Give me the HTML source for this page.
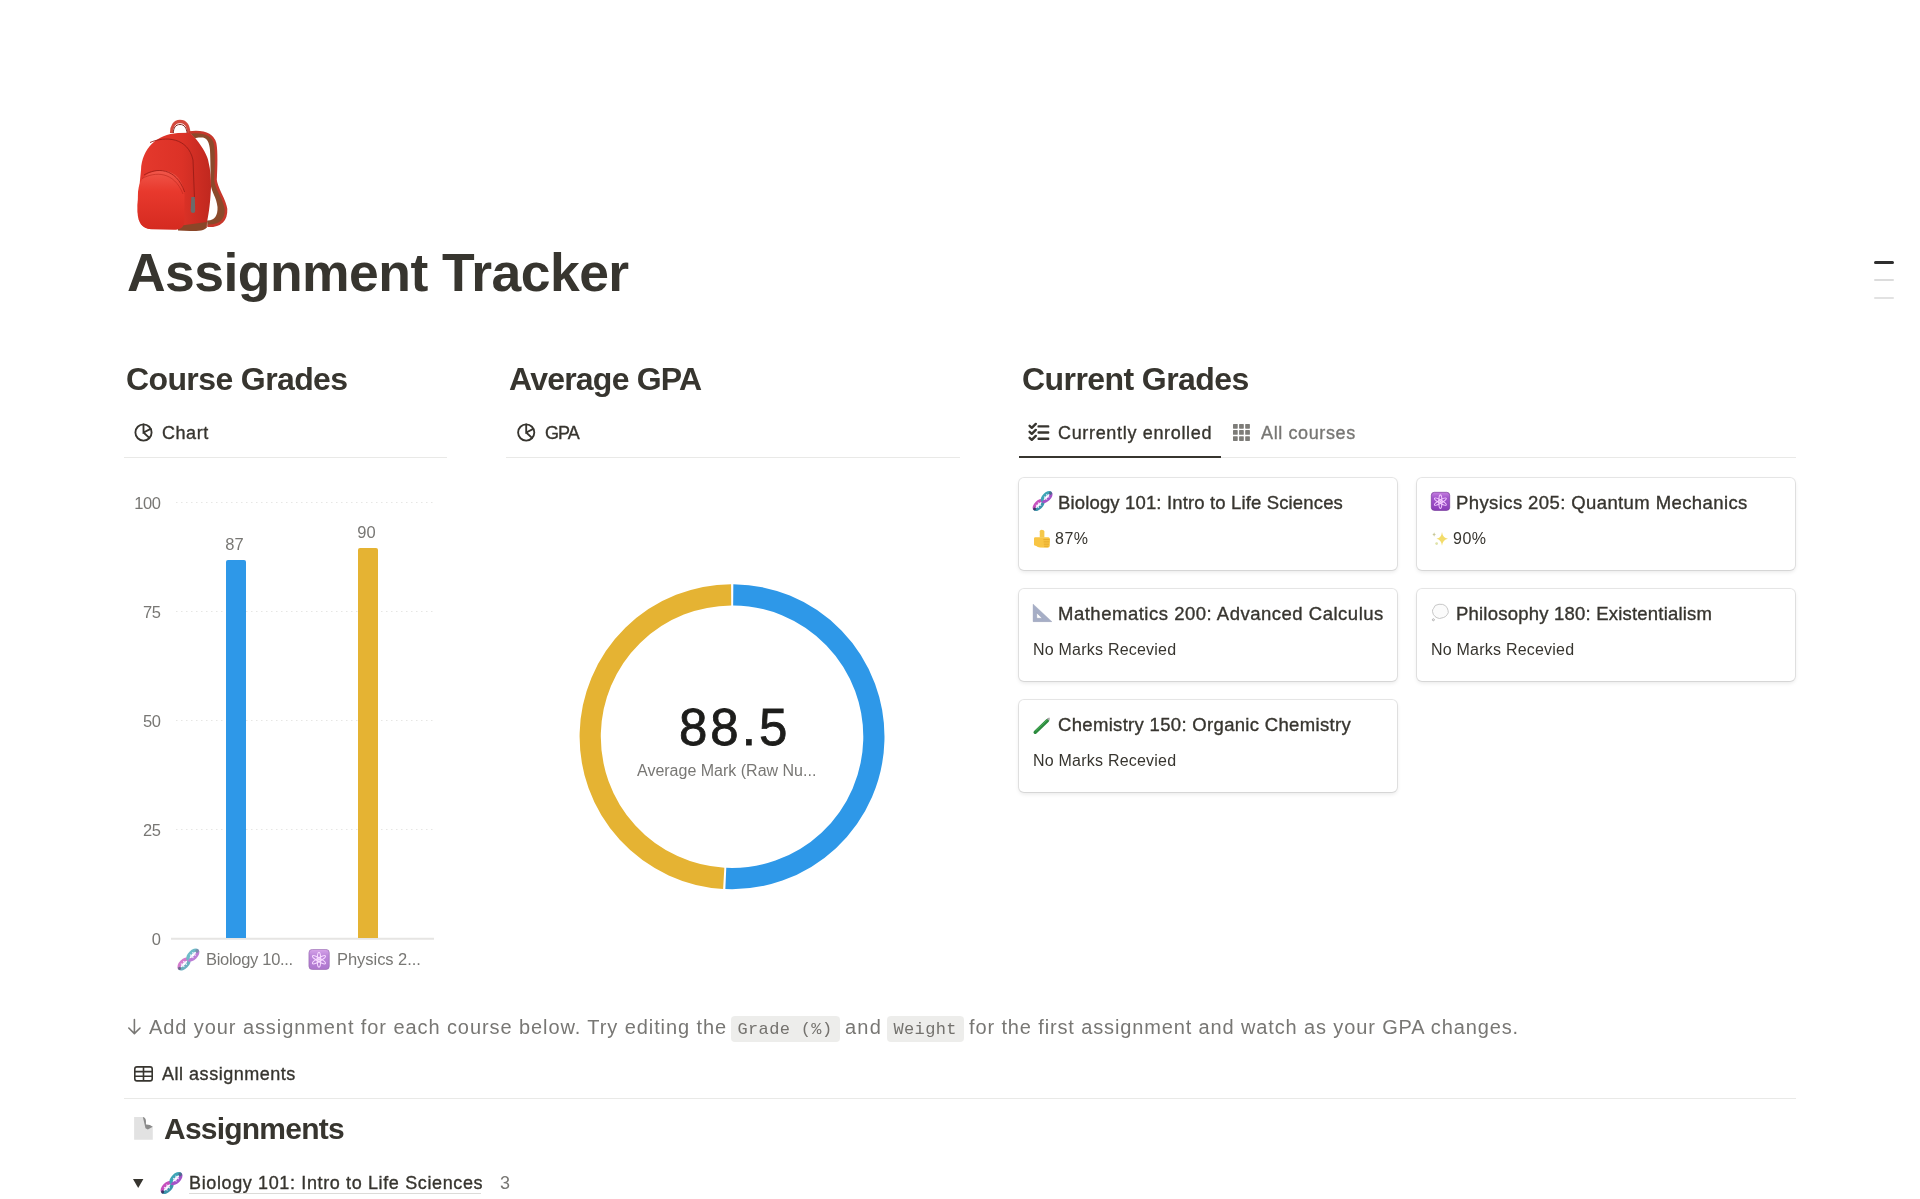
<!DOCTYPE html>
<html><head><meta charset="utf-8">
<style>
html,body{margin:0;padding:0;background:#fff;width:1920px;height:1199px;overflow:hidden;}
body{position:relative;font-family:"Liberation Sans",sans-serif;color:#37352f;}
.t{position:absolute;white-space:nowrap;line-height:1;}
.b{font-weight:bold;}
.g{color:#787774;}
.hr{position:absolute;height:1px;background:#e9e9e7;}
.card{position:absolute;width:378px;height:92px;border-radius:5px;background:#fff;box-shadow:rgba(15,15,15,0.1) 0 0 0 1px,rgba(15,15,15,0.1) 0 2px 4px;}
.ct{font-size:18.5px;-webkit-text-stroke:0.35px #37352f;}
.m{-webkit-text-stroke:0.35px currentColor;}
.cp{font-size:16px;}
svg{position:absolute;overflow:visible;}
code{font-family:"Liberation Mono",monospace;font-size:17px;background:rgba(135,131,120,0.15);color:#6b6b6b;border-radius:4px;padding:3px 6px;}
</style></head><body><div id="wrap" style="position:absolute;left:0;top:0;width:1920px;height:1199px;will-change:transform;">

<!-- ICONS / EMOJI PLACEHOLDER -->
<!-- backpack -->
<svg style="left:125px;top:110px" width="120" height="130" viewBox="125 110 120 130">
 <defs>
  <linearGradient id="bpg" x1="0" y1="0" x2="1" y2="0"><stop offset="0" stop-color="#e5392d"/><stop offset="0.6" stop-color="#dc3227"/><stop offset="1" stop-color="#c0281f"/></linearGradient>
  <linearGradient id="bpp" x1="0" y1="0" x2="0" y2="1"><stop offset="0" stop-color="#f0574a"/><stop offset="0.35" stop-color="#e8392d"/><stop offset="1" stop-color="#d52a20"/></linearGradient>
 </defs>
 <!-- handle -->
 <path d="M171.5 133 C171.5 126 174.5 121.5 180 121.3 C185.5 121.3 188.5 126 189 133.5" fill="none" stroke="#d24a3e" stroke-width="3.2"/>
 <path d="M173.3 133 C173.5 128 175.5 124.5 180 124.5 C184.5 124.5 186.5 128 187.2 133.5" fill="none" stroke="#7e2620" stroke-width="1"/>
 <!-- strap -->
 <path d="M189 132.3 C200 131 212 132.5 215.5 143 C217.5 152 216.5 168 216 180 C217 190 224.5 197 226.5 209 C227 220 221 227 207.5 226.5 L207 220.5 C214 221 218 216 217.5 207 C216.5 197 211.5 192 210.8 185 C210.5 175 210.5 160 210 150 C209.5 143 207 138 203 137.5 C199 137.2 196.5 137.5 195 138.5 Z" fill="#8b4a2b"/>
 <path d="M189 132.5 C200 131.2 212 132.8 215 143 C217 152 216 168 215.5 180 C216.5 190 224 197 226 209 C226.5 219.5 221 226.2 207.5 225.8" fill="none" stroke="#c8372b" stroke-width="2.6"/>
 <!-- body -->
 <path d="M141 170 C142 148 157 134.5 178 133 L189.5 132.8 C193 135.5 196 139 198.7 142.5 C202 147 204 150 205.5 153.5 C207 156.5 208 159 208.5 162 C210.5 170 211 178 211 187 C210.5 200 209 213 207 222 L206.5 228 L150 229 C141 228 137.5 221 137.5 205 Z" fill="url(#bpg)"/>
 <path d="M178 226 L206.8 222 L206.5 227.5 C205 230.5 199 231 190 231 L178 230.5 Z" fill="#8a4628"/>
 <path d="M150 142.5 C165 136 188 137 193 160 L194.5 199" fill="none" stroke="#9a1d17" stroke-width="0.9"/>
 <path d="M191.3 197 L194.8 197 L195.2 211 C195.2 213.5 191 213.5 190.7 211 Z" fill="#6b6b6b"/>
 <!-- pocket -->
 <path d="M138 192 C139 178 148 170.5 162 170.5 C175 171 183.5 180 184.5 195 L184.3 222 C183.8 227.5 180 229.8 174 229.8 L151 229.2 C142 228.5 138 223 137.5 212 Z" fill="url(#bpp)"/>
 <path d="M144 175 C156 167.5 176 167 184.6 192" fill="none" stroke="#a11f18" stroke-width="0.9"/>
 <path d="M142 178.5 C155 171.5 174 171 183 194" fill="none" stroke="#b8261d" stroke-width="0.6"/>
</svg>


<!-- title -->
<div class="t b" id="title" style="letter-spacing:-0.545px;left:127px;top:246px;font-size:53.5px;">Assignment Tracker</div>

<!-- scroll TOC -->
<div style="position:absolute;left:1874px;top:261px;width:20px;height:3px;border-radius:2px;background:#2f2f2f"></div>
<div style="position:absolute;left:1874px;top:279px;width:20px;height:2px;border-radius:1px;background:#dcdcdc"></div>
<div style="position:absolute;left:1874px;top:297px;width:20px;height:2px;border-radius:1px;background:#e2e2e2"></div>

<!-- headings -->
<div class="t b" id="h1" style="letter-spacing:-0.613px;left:126px;top:363px;font-size:32px;">Course Grades</div>
<div class="t b" id="h2" style="letter-spacing:-0.780px;left:509px;top:363px;font-size:32px;">Average GPA</div>
<div class="t b" id="h3" style="letter-spacing:-0.573px;left:1022px;top:363px;font-size:32px;">Current Grades</div>

<!-- tabs -->
<div class="t m" id="tab1" style="letter-spacing:0.55px;left:162px;top:424px;font-size:18px;">Chart</div>
<div class="t m" id="tab2" style="letter-spacing:-1.00px;left:545px;top:424px;font-size:18px;">GPA</div>
<div class="t m" id="tab3" style="letter-spacing:0.67px;left:1058px;top:424px;font-size:18px;">Currently enrolled</div>
<div class="t m g" id="tab4" style="letter-spacing:0.62px;left:1261px;top:424px;font-size:18px;">All courses</div>
<div class="hr" style="left:124px;top:457px;width:323px;"></div>
<div class="hr" style="left:506px;top:457px;width:454px;"></div>
<div class="hr" style="left:1019px;top:457px;width:777px;"></div>
<div style="position:absolute;left:1019px;top:456px;width:202px;height:2px;background:#37352f"></div>

<!-- tab icons -->
<svg style="left:0;top:0" width="1920" height="1199">
 <g fill="none" stroke="#37352f" stroke-width="1.85" stroke-linecap="round">
  <circle cx="143.5" cy="432.5" r="8.1"/>
  <path d="M143.5 424.4V432.5L150.6 428.9M143.5 432.5L149.3 437.9"/>
  <circle cx="526.2" cy="432.5" r="8.1"/>
  <path d="M526.2 424.4V432.5L533.3 428.9M526.2 432.5L532 437.9"/>
 </g>
 <g fill="none" stroke="#37352f" stroke-width="2.4" stroke-linecap="round" stroke-linejoin="round">
  <path d="M1029.6 425.8L1031.8 427.8L1035.8 423.9M1029.6 431.8L1031.8 433.8L1035.8 429.9M1029.6 437.8L1031.8 439.8L1035.8 435.9"/>
  <path d="M1038.6 426.4H1048.2M1038.6 432.5H1048.2M1038.6 438.7H1048.2"/>
 </g>
 <g fill="#7d7c78">
  <rect x="1233" y="424" width="4.7" height="4.7" rx="0.6"/><rect x="1239.1" y="424" width="4.7" height="4.7" rx="0.6"/><rect x="1245.2" y="424" width="4.7" height="4.7" rx="0.6"/>
  <rect x="1233" y="430.1" width="4.7" height="4.7" rx="0.6"/><rect x="1239.1" y="430.1" width="4.7" height="4.7" rx="0.6"/><rect x="1245.2" y="430.1" width="4.7" height="4.7" rx="0.6"/>
  <rect x="1233" y="436.2" width="4.7" height="4.7" rx="0.6"/><rect x="1239.1" y="436.2" width="4.7" height="4.7" rx="0.6"/><rect x="1245.2" y="436.2" width="4.7" height="4.7" rx="0.6"/>
 </g>
 <g fill="none" stroke="#37352f" stroke-width="1.6">
  <rect x="134.8" y="1066.9" width="17.4" height="14" rx="2.2"/>
  <path d="M134.8 1071.6H152.2M134.8 1076.3H152.2M143.5 1066.9V1080.9"/>
 </g>
 <path d="M133 1179H143.4L138.2 1188Z" fill="#37352f"/>
 <g fill="none" stroke="#787774" stroke-width="1.6" stroke-linecap="round" stroke-linejoin="round">
  <path d="M134.4 1019.5V1033.5M128.8 1028L134.4 1033.6L140 1028"/>
 </g>
</svg>

<!-- bar chart -->
<svg style="left:0;top:0" width="1920" height="1199">
 <g stroke="#e6e6e4" stroke-width="1" stroke-dasharray="1.5 3.5">
  <path d="M176 502.5H436M176 611.5H436M176 720.5H436M176 829.5H436"/>
 </g>
 <path d="M171 938.8H434" stroke="#e6e5e3" stroke-width="2"/>
 <path d="M226 938V562a2 2 0 0 1 2-2h16a2 2 0 0 1 2 2V938Z" fill="#2e98e8"/>
 <path d="M358 938V550a2 2 0 0 1 2-2h16a2 2 0 0 1 2 2V938Z" fill="#e5b333"/>
</svg>
<div class="t g" style="left:100px;top:495px;width:60.5px;text-align:right;font-size:16.5px;letter-spacing:-0.4px;">100</div>
<div class="t g" style="left:100px;top:604px;width:60.5px;text-align:right;font-size:16.5px;letter-spacing:-0.4px;">75</div>
<div class="t g" style="left:100px;top:713px;width:60.5px;text-align:right;font-size:16.5px;letter-spacing:-0.4px;">50</div>
<div class="t g" style="left:100px;top:822px;width:60.5px;text-align:right;font-size:16.5px;letter-spacing:-0.4px;">25</div>
<div class="t g" style="left:100px;top:931px;width:60.5px;text-align:right;font-size:16.5px;letter-spacing:-0.4px;">0</div>
<div class="t g" style="left:204.5px;top:535.5px;width:60px;text-align:center;font-size:16.5px;">87</div>
<div class="t g" style="left:336.5px;top:523.5px;width:60px;text-align:center;font-size:16.5px;">90</div>
<div class="t g" id="bl1" style="letter-spacing:-0.30px;left:206px;top:951px;font-size:16.5px;">Biology 10...</div>
<div class="t g" id="bl2" style="letter-spacing:-0.04px;left:337px;top:951px;font-size:16.5px;">Physics 2...</div>

<!-- donut -->
<svg style="left:0;top:0" width="1920" height="1199">
 <g fill="none" stroke-width="21.2">
  <path id="arcB" stroke="#2e98e8" d="M733.24 594.80A141.9 141.9 0 1 1 725.81 878.46"/>
  <path id="arcY" stroke="#e5b333" d="M723.73 878.35A141.9 141.9 0 0 1 731.16 594.80"/>
 </g>
</svg>
<div class="t" id="num" style="left:679px;top:702px;font-size:51px;letter-spacing:3px;color:#1d1d1b;-webkit-text-stroke:0.8px #1d1d1b;">88.5</div>
<div class="t g" id="avg" style="letter-spacing:0px;left:637px;top:763px;font-size:16px;">Average Mark (Raw Nu...</div>

<!-- cards -->
<div class="card" style="left:1019px;top:478px;"></div>
<div class="card" style="left:1417px;top:478px;"></div>
<div class="card" style="left:1019px;top:589px;"></div>
<div class="card" style="left:1417px;top:589px;"></div>
<div class="card" style="left:1019px;top:700px;"></div>

<div class="t ct" id="c1" style="letter-spacing:0.15px;left:1058px;top:494px;">Biology 101: Intro to Life Sciences</div>
<div class="t cp" id="c1p" style="letter-spacing:0.5px;left:1055px;top:531px;">87%</div>
<div class="t ct" id="c2" style="letter-spacing:0.40px;left:1456px;top:494px;">Physics 205: Quantum Mechanics</div>
<div class="t cp" id="c2p" style="letter-spacing:0.5px;left:1453px;top:531px;">90%</div>
<div class="t ct" id="c3" style="letter-spacing:0.51px;left:1058px;top:605px;">Mathematics 200: Advanced Calculus</div>
<div class="t cp" id="c3p" style="letter-spacing:0.22px;left:1033px;top:642px;">No Marks Recevied</div>
<div class="t ct" id="c4" style="letter-spacing:0.21px;left:1456px;top:605px;">Philosophy 180: Existentialism</div>
<div class="t cp" id="c4p" style="letter-spacing:0.22px;left:1431px;top:642px;">No Marks Recevied</div>
<div class="t ct" id="c5" style="letter-spacing:0.32px;left:1058px;top:716px;">Chemistry 150: Organic Chemistry</div>
<div class="t cp" id="c5p" style="letter-spacing:0.22px;left:1033px;top:753px;">No Marks Recevied</div>

<!-- instruction -->
<div class="t g" id="seg1" style="left:149px;top:1017px;font-size:20px;letter-spacing:0.92px;">Add your assignment for each course below. Try editing the</div>
<div style="position:absolute;left:731px;top:1016px;width:109px;height:26px;border-radius:4px;background:rgba(135,131,120,0.15)"></div>
<div class="t" id="code1" style="left:737.5px;top:1021px;font-family:'Liberation Mono',monospace;font-size:17px;letter-spacing:0.35px;color:#74726e;">Grade (%)</div>
<div class="t g" id="seg2" style="left:845px;top:1017px;font-size:20px;letter-spacing:1.2px;">and</div>
<div style="position:absolute;left:887px;top:1016px;width:77px;height:26px;border-radius:4px;background:rgba(135,131,120,0.15)"></div>
<div class="t" id="code2" style="left:893.5px;top:1021px;font-family:'Liberation Mono',monospace;font-size:17px;letter-spacing:0.35px;color:#74726e;">Weight</div>
<div class="t g" id="seg3" style="left:969px;top:1017px;font-size:20px;letter-spacing:0.87px;">for the first assignment and watch as your GPA changes.</div>

<div class="t m" id="tab5" style="letter-spacing:0.52px;left:162px;top:1065px;font-size:18px;">All assignments</div>
<div class="hr" style="left:124px;top:1098px;width:1672px;"></div>

<div class="t b" id="asg" style="letter-spacing:-0.78px;left:164px;top:1114px;font-size:30px;">Assignments</div>
<div class="t" id="grp" style="letter-spacing:0.63px;left:189px;top:1174px;font-size:18px;-webkit-text-stroke:0.35px #37352f;">Biology 101: Intro to Life Sciences</div>
<div style="position:absolute;left:189px;top:1193px;width:292px;height:1px;background:#dcdbd8"></div>
<div class="t g" id="grpn" style="left:500px;top:1174px;font-size:18px;">3</div>

<svg style="left:0;top:0" width="1920" height="1199">
 
 <svg x="1033" y="491.5" width="19" height="19" viewBox="200 150 760 760" style="position:static">
   <g transform="translate(425 690) rotate(-45)">
    <path d="M-225 0A225 110 0 0 1 225 0" fill="none" stroke="#c650bd" stroke-width="125"/>
    <path d="M-225 0A225 110 0 0 0 225 0" fill="none" stroke="#3b95ab" stroke-width="125"/>
    <path d="M-70 -70V70M50 -75V75" stroke="#efe2ff" stroke-width="40" stroke-linecap="round"/>
    <circle cx="-230" cy="0" r="55" fill="#3d3566"/>
   </g>
   <g transform="translate(745 370) rotate(-45)">
    <path d="M-225 0A225 110 0 0 0 225 0" fill="none" stroke="#a452c8" stroke-width="125"/>
    <path d="M-225 0A225 110 0 0 1 225 0" fill="none" stroke="#3ea5b6" stroke-width="125"/>
    <path d="M-60 -70V70M60 -70V70" stroke="#e6e0ff" stroke-width="40" stroke-linecap="round"/>
    <circle cx="215" cy="0" r="65" fill="#4d6a90"/>
   </g>
  </svg>
 <svg x="1431" y="492" width="19" height="18.75" viewBox="200 160 760 750" style="position:static">
   <defs><linearGradient id="atg2" x1="0" y1="0" x2="0" y2="1"><stop offset="0" stop-color="#c67ee0"/><stop offset="0.3" stop-color="#a357cc"/><stop offset="1" stop-color="#8b3cb9"/></linearGradient></defs>
   <rect x="212" y="172" width="736" height="726" rx="120" fill="url(#atg2)" stroke="#6a2c8e" stroke-width="24"/>
   <g fill="none" stroke="#f4cbff" stroke-width="42">
    <ellipse cx="575" cy="545" rx="270" ry="62" transform="rotate(90 575 545)"/>
    <ellipse cx="575" cy="545" rx="270" ry="62" transform="rotate(30 575 545)"/>
    <ellipse cx="575" cy="545" rx="270" ry="62" transform="rotate(150 575 545)"/>
   </g>
   <circle cx="575" cy="545" r="40" fill="#f4cbff"/>
  </svg>
 <svg x="1034" y="529.75" width="16" height="18" viewBox="240 230 640 720" style="position:static">
   <path d="M470 540 L470 290 Q470 230 545 230 Q650 230 655 300 L655 540 Z" fill="#f5c84a"/>
   <path d="M240 580 Q240 530 290 530 L820 530 Q880 540 880 610 L870 880 Q860 950 780 950 L480 940 Q380 930 330 880 L270 860 Q240 850 240 820 Z" fill="#f8c544"/>
   <path d="M615 625 H860 M625 715 H850 M635 805 H840 M645 890 H815" stroke="#dc9a1e" stroke-width="26"/>
  </svg>
 <svg x="1432" y="531.5" width="16.5" height="15" viewBox="240 300 660 600" style="position:static">
   <path d="M640 320 Q668 560 880 590 Q668 620 640 870 Q612 620 420 590 Q612 560 640 320Z" fill="#f3dc6a"/>
   <path d="M325 330 Q335 405 395 420 Q335 435 325 510 Q315 435 255 420 Q315 405 325 330Z" fill="#c9c99a"/>
   <circle cx="425" cy="780" r="55" fill="#dfe2a8"/>
  </svg>
 <svg x="1033" y="604" width="19" height="17.75" viewBox="200 200 760 710" style="position:static">
   <path d="M205 205 L205 905 L955 905 Z M350 555 L350 770 L565 770 Z" fill="#a6aec6" fill-rule="evenodd" stroke="#8790ab" stroke-width="14"/>
  </svg>
 <svg x="1431.75" y="603.5" width="17.5" height="17.5" viewBox="230 180 700 700" style="position:static">
   <path d="M300 380 Q330 220 520 210 Q700 200 760 260 Q860 320 880 450 Q920 560 850 620 Q790 720 700 740 Q620 760 540 780 Q430 760 360 700 Q270 620 260 500 Q250 420 300 380 Z" fill="#fbfbfb" stroke="#bdbdbd" stroke-width="34"/>
   <circle cx="295" cy="830" r="40" fill="#fff" stroke="#9d9d9d" stroke-width="30"/>
  </svg>
 <svg x="1033.75" y="715.75" width="17" height="18" viewBox="230 230 680 720" style="position:static">
   <path d="M290 890 L780 420" stroke="#2b8a3e" stroke-width="140" stroke-linecap="round"/>
   <path d="M320 820 L740 420" stroke="#4fb55c" stroke-width="40" stroke-linecap="round"/>
   <path d="M760 330 L860 300 L880 380 L800 420 Z" fill="#a8a8a8"/>
  </svg>
 <svg x="134.1" y="1117.1" width="18.7" height="22.6" viewBox="210 175 640 775" style="position:static">
   <path d="M210 175 L510 175 Q615 200 615 320 L615 430 Q760 430 850 510 L850 950 L210 950 Z" fill="#e2e2e2"/>
   <path d="M510 175 Q615 200 615 320 L615 430 Q760 430 850 510 L680 600 L600 560 Z" fill="#8a8a8a"/>
  </svg>
 <svg x="177.8" y="949" width="21" height="21" viewBox="200 150 760 760" style="position:static" opacity="0.75">
   <g transform="translate(425 690) rotate(-45)">
    <path d="M-225 0A225 110 0 0 1 225 0" fill="none" stroke="#c650bd" stroke-width="125"/>
    <path d="M-225 0A225 110 0 0 0 225 0" fill="none" stroke="#3b95ab" stroke-width="125"/>
    <path d="M-70 -70V70M50 -75V75" stroke="#efe2ff" stroke-width="40" stroke-linecap="round"/>
    <circle cx="-230" cy="0" r="55" fill="#3d3566"/>
   </g>
   <g transform="translate(745 370) rotate(-45)">
    <path d="M-225 0A225 110 0 0 0 225 0" fill="none" stroke="#a452c8" stroke-width="125"/>
    <path d="M-225 0A225 110 0 0 1 225 0" fill="none" stroke="#3ea5b6" stroke-width="125"/>
    <path d="M-60 -70V70M60 -70V70" stroke="#e6e0ff" stroke-width="40" stroke-linecap="round"/>
    <circle cx="215" cy="0" r="65" fill="#4d6a90"/>
   </g>
  </svg>
 <svg x="308.5" y="949.1" width="21.2" height="20.7" viewBox="200 160 760 750" style="position:static" opacity="0.7">
   <defs><linearGradient id="atg10" x1="0" y1="0" x2="0" y2="1"><stop offset="0" stop-color="#c67ee0"/><stop offset="0.3" stop-color="#a357cc"/><stop offset="1" stop-color="#8b3cb9"/></linearGradient></defs>
   <rect x="212" y="172" width="736" height="726" rx="120" fill="url(#atg10)" stroke="#6a2c8e" stroke-width="24"/>
   <g fill="none" stroke="#f4cbff" stroke-width="42">
    <ellipse cx="575" cy="545" rx="270" ry="62" transform="rotate(90 575 545)"/>
    <ellipse cx="575" cy="545" rx="270" ry="62" transform="rotate(30 575 545)"/>
    <ellipse cx="575" cy="545" rx="270" ry="62" transform="rotate(150 575 545)"/>
   </g>
   <circle cx="575" cy="545" r="40" fill="#f4cbff"/>
  </svg>
 <svg x="160.4" y="1172.5" width="22" height="21" viewBox="200 150 760 760" style="position:static">
   <g transform="translate(425 690) rotate(-45)">
    <path d="M-225 0A225 110 0 0 1 225 0" fill="none" stroke="#c650bd" stroke-width="125"/>
    <path d="M-225 0A225 110 0 0 0 225 0" fill="none" stroke="#3b95ab" stroke-width="125"/>
    <path d="M-70 -70V70M50 -75V75" stroke="#efe2ff" stroke-width="40" stroke-linecap="round"/>
    <circle cx="-230" cy="0" r="55" fill="#3d3566"/>
   </g>
   <g transform="translate(745 370) rotate(-45)">
    <path d="M-225 0A225 110 0 0 0 225 0" fill="none" stroke="#a452c8" stroke-width="125"/>
    <path d="M-225 0A225 110 0 0 1 225 0" fill="none" stroke="#3ea5b6" stroke-width="125"/>
    <path d="M-60 -70V70M60 -70V70" stroke="#e6e0ff" stroke-width="40" stroke-linecap="round"/>
    <circle cx="215" cy="0" r="65" fill="#4d6a90"/>
   </g>
  </svg>
</svg>

</div></body></html>
